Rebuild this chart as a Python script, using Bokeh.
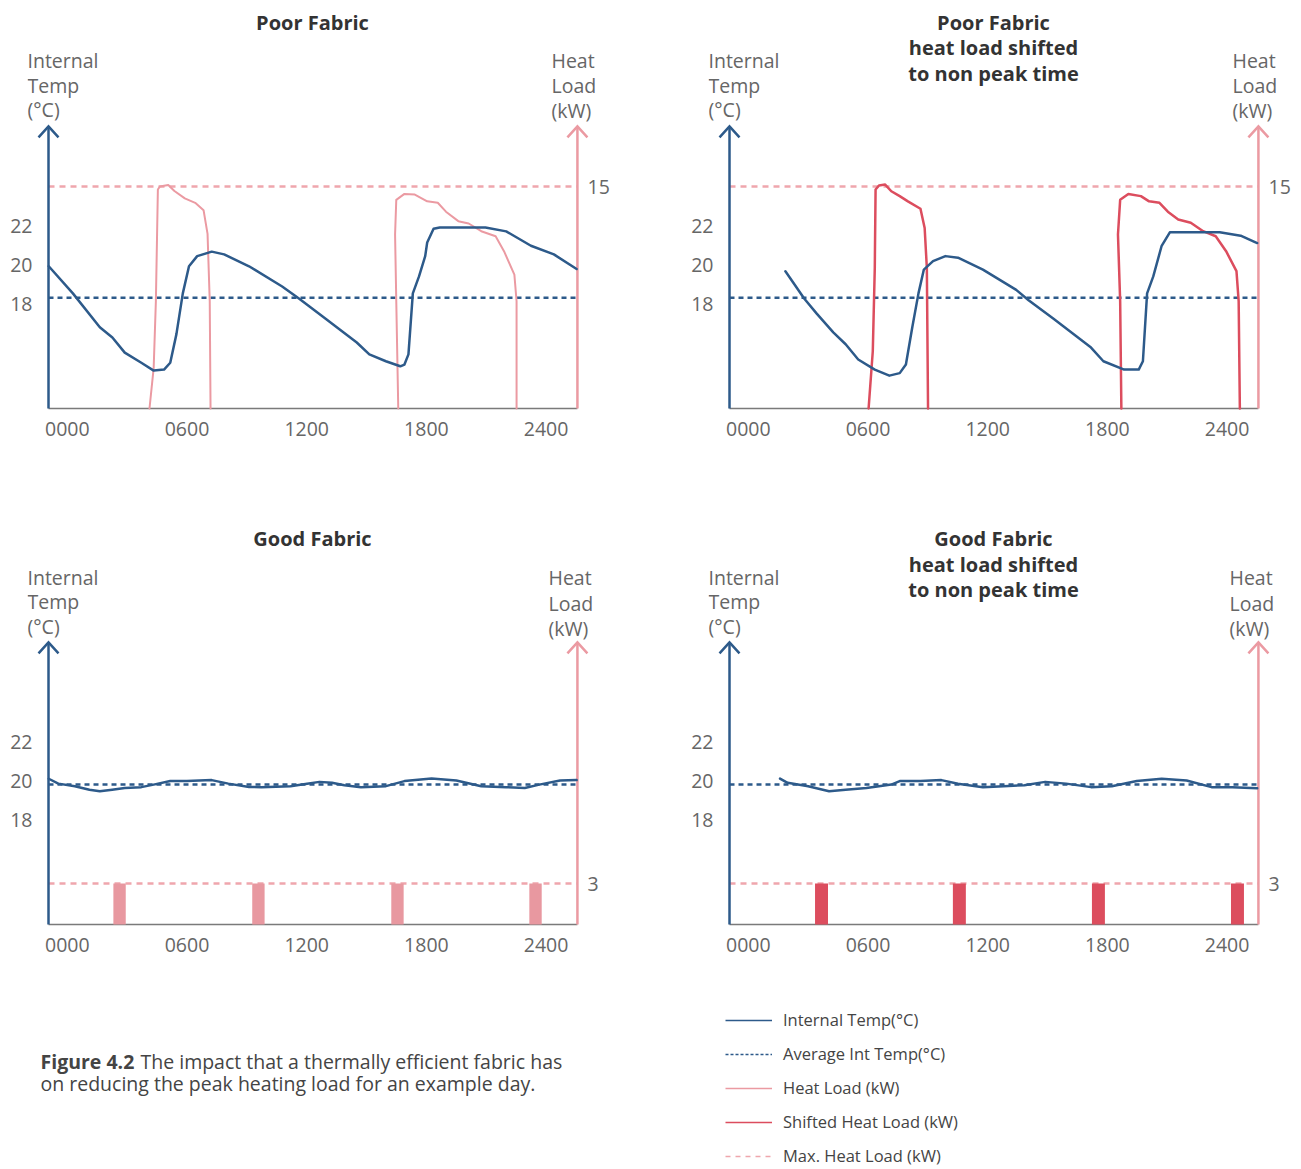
from bokeh.plotting import figure
from bokeh.models import (Range1d, LinearAxis, FixedTicker, Label, Legend, LegendItem)
from bokeh.layouts import column, row
from bokeh.embed import file_html
from bokeh.resources import INLINE

NaN = float("nan")

# ---------------- data ----------------
hour_ticks = [0, 6, 12, 18, 24]
hour_labels = ["0000", "0600", "1200", "1800", "2400"]
temp_ticks = [18, 20, 22]
poor_heat_ticks = [15]
good_heat_ticks = [3]

# Poor fabric - internal temperature (hours, degC)
poor_temp_h = [-0.93, 0.28, 1.63, 2.26, 2.88, 3.71, 4.33, 4.85, 5.16, 5.47, 5.79, 6.10, 6.51,
               7.24, 7.86, 9.11, 10.77, 11.61, 12.85, 14.51, 15.14, 15.97, 16.69, 16.9, 17.1,
               17.32, 17.63, 17.94, 18.04, 18.36, 18.67, 20.96, 22.0, 23.24, 24.39, 25.53]
poor_temp_c = [19.91, 18.52, 16.78, 16.26, 15.48, 14.96, 14.56, 14.61, 14.96, 16.43, 18.52, 19.91,
               20.43, 20.66, 20.52, 19.91, 18.87, 18.26, 17.30, 16.0, 15.39, 15.04, 14.78, 14.87,
               15.39, 18.52, 19.39, 20.43, 21.13, 21.83, 21.90, 21.90, 21.70, 20.96, 20.52, 19.77]
poor_avg_temp = 18.3

# Poor fabric - heat load (hours, kW), two heating periods
poor_heat_h = [4.12, 4.33, 4.44, 4.50, 4.54, 4.64, 5.06, 5.37, 5.89, 6.41, 6.83, 7.03, 7.14, 7.18,
               NaN,
               16.59, 16.49, 16.43, 16.49, 16.9, 17.42, 18.04, 18.57, 18.98, 19.6, 20.12, 20.75,
               21.47, 21.89, 22.41, 22.52, 22.52]
poor_heat_kw = [0, 2.75, 7.25, 11.76, 14.8, 15.0, 15.1, 14.7, 14.2, 13.9, 13.4, 11.8, 7.25, 0,
                NaN,
                0, 7.25, 11.76, 14.1, 14.5, 14.46, 14.0, 13.9, 13.3, 12.66, 12.5, 11.98,
                11.64, 10.63, 9.05, 7.25, 0]
poor_max_heat = 15

# Poor fabric, shifted - internal temperature
shift_temp_h = [1.86, 2.8, 3.43, 4.26, 4.88, 5.51, 6.34, 7.07, 7.59, 7.9, 8.22, 8.53, 8.8, 9.26,
                9.88, 10.51, 11.76, 13.43, 14.05, 15.3, 17.18, 17.8, 18.84, 19.57, 19.78, 19.99,
                20.3, 20.72, 21.13, 23.63, 24.68, 25.51]
shift_temp_c = [19.65, 18.26, 17.48, 16.52, 15.91, 15.13, 14.61, 14.30, 14.43, 14.87, 16.78, 18.52,
                19.74, 20.17, 20.43, 20.35, 19.74, 18.70, 18.17, 17.22, 15.74, 15.04, 14.61, 14.61,
                15.04, 18.52, 19.39, 20.96, 21.65, 21.65, 21.48, 21.1]

# Poor fabric, shifted heat load
shift_heat_h = [6.03, 6.24, 6.34, 6.38, 6.55, 6.86, 7.17, 7.59, 8.0, 8.63, 8.84, 8.95, 9.01,
                NaN,
                18.7, 18.64, 18.53, 18.64, 19.05, 19.68, 20.09, 20.61, 21.03, 21.55, 22.18, 22.8,
                23.43, 23.95, 24.47, 24.58, 24.64]
shift_heat_kw = [0, 3.87, 9.5, 14.8, 15.07, 15.13, 14.68, 14.35, 14.0, 13.5, 12.2, 9.5, 0,
                 NaN,
                 0, 7.25, 11.76, 14.1, 14.5, 14.35, 14.0, 13.9, 13.3, 12.77, 12.55, 11.98,
                 11.64, 10.63, 9.28, 7.25, 0]

# Good fabric - internal temperature
good_temp_h = [-0.93, -0.45, 0.38, 1.11, 1.63, 2.25, 2.88, 3.71, 4.33, 5.16, 5.99, 7.24, 8.07,
               9.11, 9.73, 11.19, 12.02, 12.64, 13.27, 13.89, 14.72, 15.97, 16.9, 18.26, 19.5,
               20.75, 22.0, 22.93, 23.66, 24.7, 25.53]
good_temp_c = [20.09, 19.84, 19.71, 19.53, 19.45, 19.53, 19.62, 19.66, 19.79, 19.97, 19.97, 20.02,
               19.84, 19.67, 19.66, 19.71, 19.83, 19.93, 19.88, 19.76, 19.66, 19.71, 19.97, 20.1,
               20.0, 19.71, 19.66, 19.62, 19.79, 20.0, 20.02]
good_avg_temp = 19.8

# Good fabric - heat load bars
good_heat_h = [2.62, 9.58, 16.55, 23.47]
good_heat_kw = [3, 3, 3, 3]
good_max_heat = 3

# Good fabric, shifted - internal temperature
gshift_temp_h = [1.59, 1.97, 3.0, 4.05, 4.88, 5.92, 6.55, 7.17, 7.59, 8.63, 9.68, 10.51, 11.76,
                 12.8, 13.84, 14.88, 15.93, 17.18, 18.22, 19.47, 20.72, 21.97, 23.22, 24.26, 25.51]
gshift_temp_c = [20.1, 19.88, 19.71, 19.45, 19.53, 19.62, 19.71, 19.79, 19.97, 19.97, 20.02, 19.83,
                 19.66, 19.71, 19.76, 19.93, 19.84, 19.66, 19.71, 19.97, 20.09, 20.0, 19.66, 19.66,
                 19.6]

# Good fabric, shifted heat load bars
gshift_heat_h = [3.67, 10.58, 17.55, 24.52]
gshift_heat_kw = [3, 3, 3, 3]

# ---------------- style ----------------
NAVY = "#2d5a8a"
PINK = "#eb9aa2"
PINK_DASH = "#efa6ad"
RED = "#dc4d5e"
BAR_PINK = "#e898a0"
GREY_AXIS = "#7a7a7a"
TXT = "#666666"
TITLE = "#333333"
FONT = "Open Sans"

# plotting window (hours / degC) and drawn axis extents
X_LO, X_HI = -1.995, 26.727
T_LO, T_HI = 12.41, 33.54
AX_H0, AX_H1 = -0.942, 25.57
AX_T0, AX_T1 = 12.615, 27.08
PX_PER_H = 19.95
PX_PER_C = 19.5
ARROW_W_PX, ARROW_H_PX = 10, 11


def panel(width, height, b_bottom, b_right, heat_range, heat_ticks, avg_temp, max_heat,
          title_lines, title_ys, left_ys, right_x, right_ys):
    p = figure(width=width, height=height, output_backend="svg", toolbar_location=None,
               x_range=Range1d(X_LO, X_HI), y_range=Range1d(T_LO, T_HI),
               x_axis_type=None, y_axis_type=None,
               min_border_top=0, min_border_bottom=b_bottom,
               min_border_left=27, min_border_right=b_right)
    p.extra_y_ranges = {"heat": Range1d(*heat_range)}
    p.outline_line_color = None

    xa = LinearAxis(ticker=FixedTicker(ticks=hour_ticks),
                    major_label_overrides={t: l for t, l in zip(hour_ticks, hour_labels)})
    ya = LinearAxis(ticker=FixedTicker(ticks=temp_ticks))
    ra = LinearAxis(ticker=FixedTicker(ticks=heat_ticks), y_range_name="heat")
    for ax in (xa, ya, ra):
        ax.axis_line_color = None
        ax.major_tick_line_color = None
        ax.minor_tick_line_color = None
        ax.major_tick_out = 0
        ax.major_tick_in = 0
        ax.minor_tick_out = 0
        ax.major_label_text_font = FONT
        ax.major_label_text_font_size = "19.5px"
        ax.major_label_text_color = TXT
    xa.major_label_standoff = 9
    ya.major_label_standoff = -5
    ra.major_label_standoff = -13
    p.add_layout(xa, "below")
    p.add_layout(ya, "left")
    p.add_layout(ra, "right")

    # reference lines
    p.line([AX_H0, AX_H1], [avg_temp, avg_temp], line_color=NAVY, line_width=2.5,
           line_dash="5 4")
    p.line([AX_H0, AX_H1], [max_heat, max_heat], y_range_name="heat", line_color=PINK_DASH,
           line_width=2.5, line_dash="6 5")

    # axis lines with open arrow heads
    dh = ARROW_W_PX / PX_PER_H
    dt = ARROW_H_PX / PX_PER_C
    p.line([AX_H0, AX_H1], [AX_T0, AX_T0], line_color=GREY_AXIS, line_width=1.5)
    p.line([AX_H0, AX_H0], [AX_T0, AX_T1], line_color=NAVY, line_width=2.5)
    p.line([AX_H0 - dh, AX_H0, AX_H0 + dh], [AX_T1 - dt, AX_T1, AX_T1 - dt],
           line_color=NAVY, line_width=2.5, line_join="miter")
    p.line([AX_H1, AX_H1], [AX_T0, AX_T1], line_color=PINK, line_width=2.5)
    p.line([AX_H1 - dh, AX_H1, AX_H1 + dh], [AX_T1 - dt, AX_T1, AX_T1 - dt],
           line_color=PINK, line_width=2.5, line_join="miter")

    # texts (screen units relative to plot frame)
    for t, y in zip(title_lines, title_ys):
        p.add_layout(Label(x=285, y=y, x_units="screen", y_units="screen", text=t,
                           text_align="center", text_baseline="middle", text_font=FONT,
                           text_font_style="bold", text_font_size="20px", text_color=TITLE))
    for t, y in zip(["Internal", "Temp", "(°C)"], left_ys):
        p.add_layout(Label(x=0, y=y, x_units="screen", y_units="screen", text=t,
                           text_align="left", text_baseline="middle", text_font=FONT,
                           text_font_size="19.5px", text_color=TXT))
    for t, y in zip(["Heat", "Load", "(kW)"], right_ys):
        p.add_layout(Label(x=right_x, y=y, x_units="screen", y_units="screen", text=t,
                           text_align="left", text_baseline="middle", text_font=FONT,
                           text_font_size="19.5px", text_color=TXT))
    return p


TITLE_1 = ["Poor Fabric"]
TITLE_2 = ["Poor Fabric", "heat load shifted", "to non peak time"]
TITLE_3 = ["Good Fabric"]
TITLE_4 = ["Good Fabric", "heat load shifted", "to non peak time"]

# Panel 1: Poor Fabric
p1 = panel(681, 516, 104, 81, (-0.27, 27.57), poor_heat_ticks, poor_avg_temp, poor_max_heat,
           TITLE_1, [390], [352, 327, 303], 524, [352, 327, 302])
p1.line(poor_heat_h, poor_heat_kw, y_range_name="heat", line_color=PINK, line_width=2,
        line_join="round", line_cap="round")
p1.line(poor_temp_h, poor_temp_c, line_color=NAVY, line_width=2.5, line_join="round",
        line_cap="round")

# Panel 2: Poor Fabric shifted
p2 = panel(619, 516, 104, 19, (-0.27, 27.57), poor_heat_ticks, poor_avg_temp, poor_max_heat,
           TITLE_2, [390, 365, 339], [352, 327, 303], 524, [352, 327, 302])
p2.line(shift_heat_h, shift_heat_kw, y_range_name="heat", line_color=RED, line_width=2.5,
        line_join="round", line_cap="round")
p2.line(shift_temp_h, shift_temp_c, line_color=NAVY, line_width=2.5, line_join="round",
        line_cap="round")

# Panel 3: Good Fabric
p3 = panel(681, 469, 57, 81, (-0.29, 29.85), good_heat_ticks, good_avg_temp, good_max_heat,
           TITLE_3, [390], [351, 327, 302], 521, [351, 325, 300])
p3.vbar(x=good_heat_h, top=good_heat_kw, bottom=0, width=0.62, y_range_name="heat",
        fill_color=BAR_PINK, line_color=None)
p3.line(good_temp_h, good_temp_c, line_color=NAVY, line_width=2.5, line_join="round",
        line_cap="round")

# Panel 4: Good Fabric shifted
p4 = panel(619, 469, 57, 19, (-0.29, 29.85), good_heat_ticks, good_avg_temp, good_max_heat,
           TITLE_4, [390, 364, 339], [351, 327, 302], 521, [351, 325, 300])
p4.vbar(x=gshift_heat_h, top=gshift_heat_kw, bottom=0, width=0.65, y_range_name="heat",
        fill_color=RED, line_color=None)
p4.line(gshift_temp_h, gshift_temp_c, line_color=NAVY, line_width=2.5, line_join="round",
        line_cap="round")

# Bottom strip: caption + legend
pb = figure(width=1300, height=183, output_backend="svg", toolbar_location=None,
            x_range=Range1d(0, 1), y_range=Range1d(0, 1), x_axis_type=None, y_axis_type=None,
            min_border=0)
pb.outline_line_color = None
r_t = pb.line(x=[2, 3], y=[2, 2], line_color=NAVY, line_width=1.6)
r_a = pb.line(x=[2, 3], y=[2, 2], line_color=NAVY, line_width=1.4, line_dash="3 2")
r_h = pb.line(x=[2, 3], y=[2, 2], line_color=PINK, line_width=1.6)
r_s = pb.line(x=[2, 3], y=[2, 2], line_color=RED, line_width=1.6)
r_m = pb.line(x=[2, 3], y=[2, 2], line_color=PINK_DASH, line_width=1.4, line_dash="5 5")
legend = Legend(items=[LegendItem(label="Internal Temp(°C)", renderers=[r_t]),
                       LegendItem(label="Average Int Temp(°C)", renderers=[r_a]),
                       LegendItem(label="Heat Load (kW)", renderers=[r_h]),
                       LegendItem(label="Shifted Heat Load (kW)", renderers=[r_s]),
                       LegendItem(label="Max. Heat Load (kW)", renderers=[r_m])],
                location=(725, 1), orientation="vertical", spacing=11, padding=0, margin=0,
                glyph_width=47, glyph_height=20, label_height=20, label_standoff=11,
                label_text_font=FONT, label_text_font_size="16.5px", label_text_color="#444444",
                border_line_alpha=0, background_fill_alpha=0)
pb.add_layout(legend)
pb.add_layout(Label(x=40, y=107, x_units="screen", y_units="screen", text="Figure 4.2",
                    text_baseline="middle", text_font=FONT, text_font_style="bold",
                    text_font_size="19.5px", text_color="#444444"))
pb.add_layout(Label(x=140, y=107, x_units="screen", y_units="screen",
                    text="The impact that a thermally efficient fabric has",
                    text_baseline="middle", text_font=FONT,
                    text_font_size="19.5px", text_color="#444444"))
pb.add_layout(Label(x=40, y=85, x_units="screen", y_units="screen",
                    text="on reducing the peak heating load for an example day.",
                    text_baseline="middle", text_font=FONT,
                    text_font_size="19.5px", text_color="#444444"))

layout = column(row(p1, p2), row(p3, p4), pb)
open("out.html", "w").write(file_html(layout, INLINE))
